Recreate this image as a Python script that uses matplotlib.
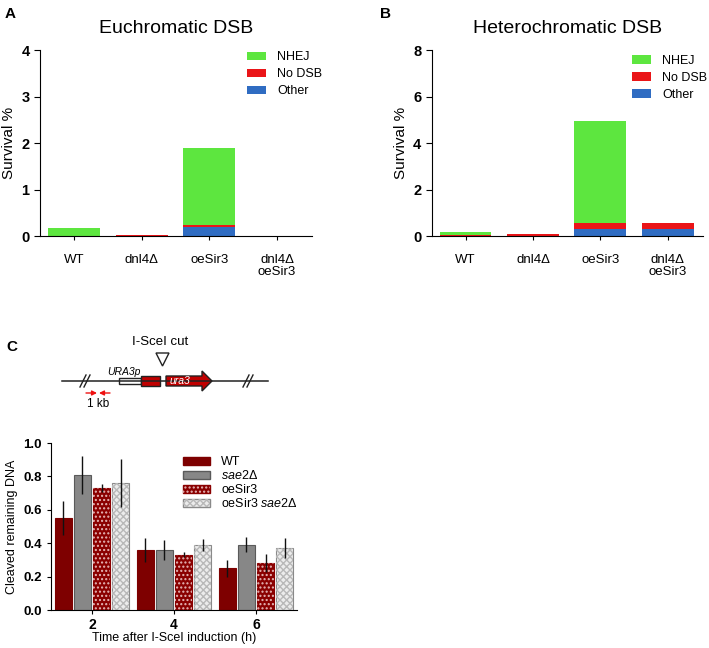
import matplotlib
matplotlib.use("Agg")
import matplotlib.pyplot as plt
import numpy as np
from matplotlib.patches import Rectangle, Polygon, Patch

plt.rcParams['font.family'] = ['Liberation Sans', 'DejaVu Sans']
plt.rcParams['mathtext.fontset'] = 'custom'
plt.rcParams['mathtext.rm'] = 'Liberation Sans'
plt.rcParams['mathtext.it'] = 'Liberation Sans:italic'
plt.rcParams['hatch.linewidth'] = 1.0

# panel A / B data (survival %)
strains = ["WT", "dnl4Δ", "oeSir3", "dnl4Δ\noeSir3"]
categories = ["Other", "No DSB", "NHEJ"]
cat_colors = ["#2f6cc2", "#ea1518", "#5de63f"]

eu_other = [0.0, 0.0, 0.19, 0.0]
eu_nodsb = [0.01, 0.02, 0.04, 0.0]
eu_nhej = [0.16, 0.0, 1.66, 0.0]

het_other = [0.0, 0.0, 0.30, 0.30]
het_nodsb = [0.03, 0.08, 0.25, 0.27]
het_nhej = [0.15, 0.0, 4.38, 0.0]

# panel C data
times = [2, 4, 6]
series = ["WT", "sae2Δ", "oeSir3", "oeSir3 sae2Δ"]
cleaved = {
    "WT": [0.55, 0.36, 0.25],
    "sae2Δ": [0.81, 0.36, 0.39],
    "oeSir3": [0.73, 0.33, 0.28],
    "oeSir3 sae2Δ": [0.76, 0.39, 0.37],
}
cleaved_err = {
    "WT": [0.10, 0.07, 0.05],
    "sae2Δ": [0.115, 0.06, 0.045],
    "oeSir3": [0.025, 0.015, 0.055],
    "oeSir3 sae2Δ": [0.145, 0.035, 0.06],
}

fig = plt.figure(figsize=(7.09, 6.48), dpi=100)

# overlay axes in pixel coords for letters + schematic
ov = fig.add_axes([0, 0, 1, 1], zorder=-1)
ov.set_xlim(0, 709)
ov.set_ylim(648, 0)
ov.axis("off")


def stacked(ax, parts, ymax, title, leg_pos):
    x = np.arange(len(strains))
    bottom = np.zeros(len(strains))
    for vals, col, lab in zip(parts, cat_colors, categories):
        ax.bar(x, vals, 0.77, bottom=bottom, color=col, label=lab, linewidth=0)
        bottom = bottom + np.array(vals)
    ax.set_xlim(-0.5, 3.52)
    ax.set_ylim(0, ymax)
    ax.set_yticks(np.linspace(0, ymax, 5))
    ax.set_yticklabels([str(int(v)) for v in np.linspace(0, ymax, 5)],
                       fontweight="bold", fontsize=10.5)
    ax.set_xticks(x)
    ax.set_xticklabels(strains, fontsize=9.5, linespacing=1.0)
    ax.tick_params(axis="x", length=3, pad=10)
    ax.tick_params(axis="y", length=4)
    ax.set_ylabel("Survival %", fontsize=11, labelpad=4)
    ax.set_title(title, fontsize=14, pad=12)
    for s in ["top", "right"]:
        ax.spines[s].set_visible(False)
    h, l = ax.get_legend_handles_labels()
    ax.legend(h[::-1], l[::-1], loc="upper left", bbox_to_anchor=leg_pos,
              frameon=False, fontsize=9, borderpad=0, borderaxespad=0,
              handlelength=1.5, handleheight=0.7, labelspacing=0.4,
              handletextpad=0.9)


axA = fig.add_axes([0.0564, 0.6358, 0.384, 0.287])
stacked(axA, [eu_other, eu_nodsb, eu_nhej], 4, "Euchromatic DSB", (0.76, 0.993))
axB = fig.add_axes([0.609, 0.6358, 0.3825, 0.287])
stacked(axB, [het_other, het_nodsb, het_nhej], 8, "Heterochromatic DSB", (0.738, 0.974))

ov.text(5, 14, "A", fontsize=11, fontweight="bold", va="center")
ov.text(380, 14, "B", fontsize=11, fontweight="bold", va="center")
ov.text(6, 347, "C", fontsize=11, fontweight="bold", va="center")

# schematic
ly = 381
ov.plot([62, 268], [ly, ly], color="#222222", lw=1.1)
for bx in [85, 248]:
    for dx in [-2, 2]:
        ov.plot([bx + dx - 3, bx + dx + 3], [ly + 6, ly - 6], color="#222222", lw=1.0)
ov.add_patch(Rectangle((119, 378), 22, 6, facecolor="white", edgecolor="#222222", lw=1.0))
ov.add_patch(Rectangle((141, 376), 19, 10, facecolor="#c00000", edgecolor="#222222", lw=1.0))
ov.add_patch(Polygon([(166, 376), (202, 376), (202, 371), (212, 381), (202, 391),
                      (202, 386), (166, 386)], closed=True,
                     facecolor="#c00000", edgecolor="#222222", lw=1.0))
ov.add_patch(Polygon([(156, 353), (169, 353), (162.5, 366)], closed=True,
                     facecolor="white", edgecolor="#222222", lw=1.0))
ov.text(160, 342, "I-SceI cut", fontsize=9.5, ha="center", va="center")
ov.text(124, 372, "URA3p", fontsize=7.5, style="italic", ha="center", va="center")
ov.text(170, 381.5, "ura3", fontsize=7.5, style="italic", color="white", ha="left", va="center")
ov.annotate("", xy=(97, 393), xytext=(86, 393),
            arrowprops=dict(arrowstyle="-|>", color="#ee1111", lw=1.0,
                            mutation_scale=7, shrinkA=0, shrinkB=0))
ov.annotate("", xy=(99, 393), xytext=(110, 393),
            arrowprops=dict(arrowstyle="-|>", color="#ee1111", lw=1.0,
                            mutation_scale=7, shrinkA=0, shrinkB=0))
ov.text(98, 404, "1 kb", fontsize=8.5, ha="center", va="center")

# panel C bar chart
axC = fig.add_axes([0.0719, 0.0586, 0.347, 0.2577])
styles = {
    "WT": dict(fc="#7e0000", ec="#7e0000", hatch=None, hc=None),
    "sae2Δ": dict(fc="#878787", ec="#5a5a5a", hatch=None, hc=None),
    "oeSir3": dict(fc="#8a0000", ec="#8a0000", hatch="....", hc="#e6b8b8"),
    "oeSir3 sae2Δ": dict(fc="#ececec", ec="#8a8a8a", hatch="xxxxx", hc="#b8b8b8"),
}
labels_c = ["WT", "$\\it{sae2Δ}$", "oeSir3", "oeSir3 $\\it{sae2Δ}$"]
t = np.array(times, dtype=float)
bw = 0.41
step = 0.465
for i, name in enumerate(series):
    st = styles[name]
    xs = t + (i - 1.5) * step
    axC.bar(xs, cleaved[name], bw, color=st["fc"], edgecolor=st["ec"], lw=0.8)
    if st["hatch"]:
        axC.bar(xs, cleaved[name], bw, color="none", edgecolor=st["hc"], lw=0,
                hatch=st["hatch"])
    axC.errorbar(xs, cleaved[name], yerr=cleaved_err[name], fmt="none",
                 ecolor="#111111", elinewidth=1.0, capsize=0)

axC.set_xlim(1, 7)
axC.set_ylim(0, 1.0)
axC.set_xticks(times)
axC.set_xticklabels([str(v) for v in times], fontweight="bold", fontsize=10)
axC.set_yticks([0, 0.2, 0.4, 0.6, 0.8, 1.0])
axC.set_yticklabels(["0.0", "0.2", "0.4", "0.6", "0.8", "1.0"], fontweight="bold", fontsize=9.5)
axC.tick_params(axis="x", length=3, pad=3)
axC.tick_params(axis="y", length=3)
axC.set_xlabel("Time after I-SceI induction (h)", fontsize=9, labelpad=0)
axC.set_ylabel("Cleaved remaining DNA", fontsize=9)
for s in ["top", "right"]:
    axC.spines[s].set_visible(False)

leg_handles = []
for name in series:
    st = styles[name]
    if st["hatch"]:
        leg_handles.append((Patch(facecolor=st["fc"], edgecolor=st["ec"]),
                            Patch(facecolor="none", edgecolor=st["hc"], lw=0, hatch=st["hatch"])))
    else:
        leg_handles.append(Patch(facecolor=st["fc"], edgecolor=st["ec"]))
axC.legend(leg_handles, labels_c, loc="upper right", bbox_to_anchor=(1.05, 0.99),
           frameon=False, fontsize=9, handlelength=2.2, handleheight=0.6,
           labelspacing=0.12, handletextpad=0.9)

fig.savefig("out.png", dpi=100)
